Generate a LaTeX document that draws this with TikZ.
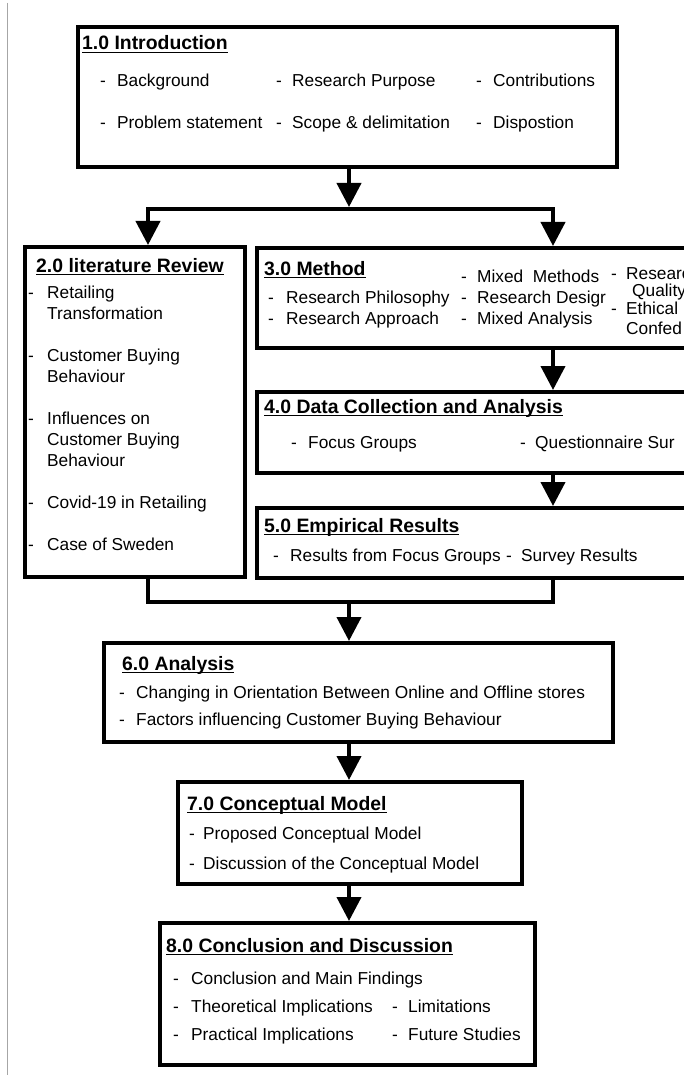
\documentclass[tikz,border=0pt]{standalone}
\usepackage{fontspec}
\setmainfont{Liberation Sans}
\usepackage{tikz}
\usetikzlibrary{arrows.meta,calc}
\newcommand{\itemsize}{\fontsize{17.3}{21}\selectfont}
\newcommand{\hdr}[1]{\sbox0{#1}\rlap{\rule[-3pt]{\wd0}{1.3pt}}\usebox0}
\newcommand{\bul}[1][16pt]{\makebox[#1][l]{-}}
\tikzset{
  box/.style={draw, line width=4pt, inner sep=0pt},
  ttl/.style={anchor=base west, inner sep=0pt, font=\fontsize{19.4}{23}\selectfont\bfseries},
  itm/.style={anchor=base west, inner sep=0pt, font=\itemsize},
  link/.style={line width=4pt, line cap=rect, line join=miter},
  arrow/.style={-{Triangle[width=24pt,length=24pt]}, line width=4pt}
}
\begin{document}
\begin{tikzpicture}[x=1pt, y=-1pt]
    \useasboundingbox (0,0) rectangle (683,1075);
    \fill[white] (0,0) rectangle (683,1075);
    \draw[gray!70, line width=0.8pt] (7,3) -- (7,1075);

    % Boxes
    \node[box, minimum width=539, minimum height=140] (intro) at (347.5,97) {};
    \node[box, minimum width=220, minimum height=330] (litrev) at (135,412) {};
    \node[box, minimum width=443, minimum height=100] (method) at (478.5,298) {};
    \node[box, minimum width=443, minimum height=81] (datacoll) at (478.5,432.5) {};
    \node[box, minimum width=443, minimum height=70] (results) at (478.5,543) {};
    \node[box, minimum width=509, minimum height=99] (analysis) at (358.5,692.5) {};
    \node[box, minimum width=344, minimum height=102] (concept) at (350,833) {};
    \node[box, minimum width=375, minimum height=142] (concl) at (347.5,994) {};

    % 1.0
    \node[ttl] (t1) at (82,50) {\hdr{1.0 Introduction}};
    \node[itm] (i1a) at (100,87) {\bul[17pt]Background};
    \node[itm] (i1b) at (276,87) {\bul[16pt]Research Purpose};
    \node[itm] (i1c) at (476,87) {\bul[17pt]Contributions};
    \node[itm] (i1d) at (100,129) {\bul[17pt]Problem statement};
    \node[itm] (i1e) at (276,129) {\bul[16pt]Scope \& delimitation};
    \node[itm] (i1f) at (476,129) {\bul[17pt]Dispostion};

    % 2.0
    \node[ttl] (t2) at (36,272) {\hdr{2.0 literature Review}};
    \node[itm] (i2a) at (28,298) {\bul[19pt]Retailing};
    \node[itm] (i2b) at (47,319) {Transformation};
    \node[itm] (i2c) at (28,361) {\bul[19pt]Customer Buying};
    \node[itm] (i2d) at (47,382) {Behaviour};
    \node[itm] (i2e) at (28,424) {\bul[19pt]Influences on};
    \node[itm] (i2f) at (47,445) {Customer Buying};
    \node[itm] (i2g) at (47,466) {Behaviour};
    \node[itm] (i2h) at (28,508) {\bul[19pt]Covid-19 in Retailing};
    \node[itm] (i2i) at (28,550) {\bul[19pt]Case of Sweden};

    % 3.0
    \node[ttl] (t3) at (264,275) {\hdr{3.0 Method}};
    \node[itm] (i3a) at (268,303) {\bul[18pt]Research Philosophy};
    \node[itm] (i3b) at (268,324) {\bul[18pt]Research Approach};
    \node[itm] (i3c) at (461,282) {\bul[16pt]Mixed\hspace{0.55em}Methods};
    \node[itm] (i3d) at (461,303) {\bul[16pt]Research Desigr};
    \node[itm] (i3e) at (461,324) {\bul[16pt]Mixed Analysis};
    \node[itm] (i3f) at (611,279) {\bul[15pt]Researc};
    \node[itm] (i3g) at (632,296) {Quality};
    \node[itm] (i3h) at (611,314) {\bul[15pt]Ethical};
    \node[itm] (i3i) at (626,334) {Confed};

    % 4.0
    \node[ttl] (t4) at (264,413) {\hdr{4.0 Data Collection and Analysis}};
    \node[itm] (i4a) at (291,448) {\bul[17pt]Focus Groups};
    \node[itm] (i4b) at (520,448) {\bul[15pt]Questionnaire Sur};

    % 5.0
    \node[ttl] (t5) at (264,532) {\hdr{5.0 Empirical Results}};
    \node[itm] (i5a) at (273,561) {\bul[17pt]Results from Focus Groups};
    \node[itm] (i5b) at (506,561) {\bul[15pt]Survey Results};

    % 6.0
    \node[ttl] (t6) at (122,670) {\hdr{6.0 Analysis}};
    \node[itm] (i6a) at (119,698) {\bul[17pt]Changing in Orientation Between Online and Offline stores};
    \node[itm] (i6b) at (119,725) {\bul[17pt]Factors influencing Customer Buying Behaviour};

    % 7.0
    \node[ttl] (t7) at (187,810) {\hdr{7.0 Conceptual Model}};
    \node[itm] (i7a) at (189,839) {\bul[14pt]Proposed Conceptual Model};
    \node[itm] (i7b) at (189,869) {\bul[14pt]Discussion of the Conceptual Model};

    % 8.0
    \node[ttl] (t8) at (166,952) {\hdr{8.0 Conclusion and Discussion}};
    \node[itm] (i8a) at (173,984) {\bul[18pt]Conclusion and Main Findings};
    \node[itm] (i8b) at (173,1012) {\bul[18pt]Theoretical Implications};
    \node[itm] (i8c) at (173,1040) {\bul[18pt]Practical Implications};
    \node[itm] (i8d) at (392,1012) {\bul[16pt]Limitations};
    \node[itm] (i8e) at (392,1040) {\bul[16pt]Future Studies};

    % Arrows
    \coordinate (trunk) at (349,0);
    \coordinate (lj) at (148,209);
    \coordinate (rj) at (553,209);
    \coordinate (lm) at (148,602);
    \coordinate (rm) at (553,602);
    \draw[arrow] (trunk |- intro.south) -- ([yshift=2pt]trunk |- lj);
    \draw[link] (lj) -- (rj);
    \draw[arrow] (lj) -- (lj |- litrev.north);
    \draw[arrow] (rj) -- (rj |- method.north);
    \draw[arrow] (rj |- method.south) -- (rj |- datacoll.north);
    \draw[arrow] (rj |- datacoll.south) -- (rj |- results.north);
    \draw[link] (lj |- litrev.south) -- (lm) -- (rm) -- (rj |- results.south);
    \draw[arrow] (trunk |- lm) -- (trunk |- analysis.north);
    \draw[arrow] (trunk |- analysis.south) -- (trunk |- concept.north);
    \draw[arrow] (trunk |- concept.south) -- (trunk |- concl.north);
\end{tikzpicture}
\end{document}
